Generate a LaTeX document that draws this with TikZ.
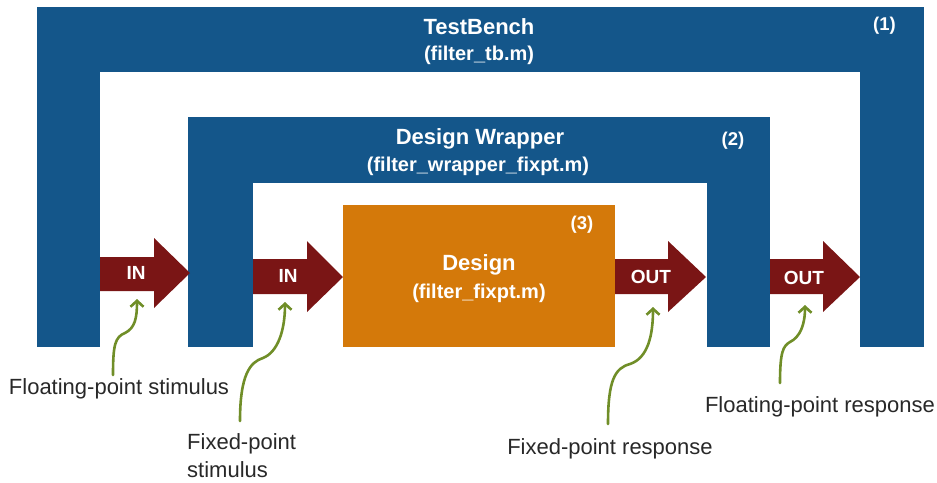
\documentclass[tikz,border=0pt]{standalone}
\usepackage{fontspec}
\setmainfont{Liberation Sans}
\usetikzlibrary{arrows.meta}
\definecolor{tbblue}{RGB}{20,86,138}
\definecolor{arrred}{RGB}{122,21,21}
\definecolor{dsorange}{RGB}{212,121,10}
\definecolor{lblgreen}{RGB}{112,142,40}
\definecolor{lbltext}{RGB}{40,40,40}
\tikzset{
  blk/.style={fill=tbblue, draw=none, inner sep=0pt, outer sep=0pt, anchor=north west},
  dsbox/.style={fill=dsorange, draw=none, inner sep=0pt, outer sep=0pt, anchor=north west},
  wtitle/.style={text=white, font=\fontsize{22}{26}\selectfont\bfseries, inner sep=0pt},
  wsub/.style={text=white, font=\fontsize{20}{24}\selectfont\bfseries, inner sep=0pt},
  wnum/.style={text=white, font=\fontsize{18.5}{22}\selectfont\bfseries, inner sep=0pt},
  arrtxt/.style={text=white, font=\fontsize{19}{22}\selectfont\bfseries, inner sep=0pt},
  blockarrow/.style={fill=arrred, draw=none},
  lbl/.style={text=lbltext, font=\fontsize{22}{28}\selectfont, inner sep=0pt},
  callout/.style={draw=lblgreen, line width=2.6pt, line cap=round, -{Straight Barb[length=6pt,width=13pt,line width=2.6pt]}}
}
\begin{document}
\begin{tikzpicture}[x=1pt,y=-1pt]
\useasboundingbox (0,0) rectangle (937,482);
% TestBench frame
\node[blk, minimum width=63, minimum height=340] (tbL) at (37,7) {};
\node[blk, minimum width=823, minimum height=65] (tbT) at (37,7) {};
\node[blk, minimum width=64, minimum height=340] (tbR) at (860,7) {};
\node[wtitle] (tbname) at (479,27) {TestBench};
\node[wsub] (tbfile) at (479,55) {(filter\_tb.m)};
\node[wnum] (n1) at (884.5,26) {(1)};
% Design Wrapper frame
\node[blk, minimum width=65, minimum height=230] (dwL) at (188,117) {};
\node[blk, minimum width=519, minimum height=66] (dwT) at (188,117) {};
\node[blk, minimum width=63, minimum height=230] (dwR) at (707,117) {};
\node[wtitle] (dwname) at (480,139) {Design Wrapper};
\node[wsub] (dwfile) at (478,166) {(filter\_wrapper\_fixpt.m)};
\node[wnum] (n2) at (733,141) {(2)};
% Design
\node[dsbox, minimum width=272, minimum height=142] (ds) at (343,205) {};
\node[wtitle] (dsname) at (479,265) {Design};
\node[wsub] (dsfile) at (479,293) {(filter\_fixpt.m)};
\node[wnum] (n3) at (582,225) {(3)};
% block arrows
\fill[blockarrow] (100,257) -- (154,257) -- (154,238) -- (190,273) -- (154,308) -- (154,291) -- (100,291) -- cycle;
\node[arrtxt] (in1) at (136,273) {IN};
\fill[blockarrow] (253,259) -- (307,259) -- (307,241) -- (343,277) -- (307,312) -- (307,294) -- (253,294) -- cycle;
\node[arrtxt] (in2) at (288,276) {IN};
\fill[blockarrow] (615,259) -- (668,259) -- (668,241) -- (706,277) -- (668,312) -- (668,294) -- (615,294) -- cycle;
\node[arrtxt] (out1) at (651,277) {OUT};
\fill[blockarrow] (770,259) -- (823,259) -- (823,241) -- (860,277) -- (823,312) -- (823,294) -- (770,294) -- cycle;
\node[arrtxt] (out2) at (804,278) {OUT};
% labels
\node[lbl] (l1) at (119,389) {Floating-point stimulus};
\node[lbl, anchor=north west, align=left] (l2) at (187,433) {Fixed-point\\stimulus};
\node[lbl] (l3) at (610,449) {Fixed-point response};
\node[lbl] (l4) at (820,407) {Floating-point response};
% callout targets
\coordinate (t1) at (137,299);
\coordinate (t2) at (285,302);
\coordinate (t3) at (653,307);
\coordinate (t4) at (805,305);
\coordinate (s1) at (113,375);
\coordinate (s2) at (240,421);
\coordinate (s3) at (608,424);
\coordinate (s4) at (780,383);
\draw[callout] (s1) .. controls (113,345) and (115,337) .. (125,333) .. controls (135,328) and (137,318) .. (t1);
\draw[callout] (s2) .. controls (240,375) and (250,362) .. (263,358) .. controls (278,352) and (285,330) .. (t2);
\draw[callout] (s3) .. controls (608,380) and (615,368) .. (630,364) .. controls (648,358) and (653,335) .. (t3);
\draw[callout] (s4) .. controls (780,352) and (783,346) .. (790,342) .. controls (800,337) and (805,325) .. (t4);
\end{tikzpicture}
\end{document}
